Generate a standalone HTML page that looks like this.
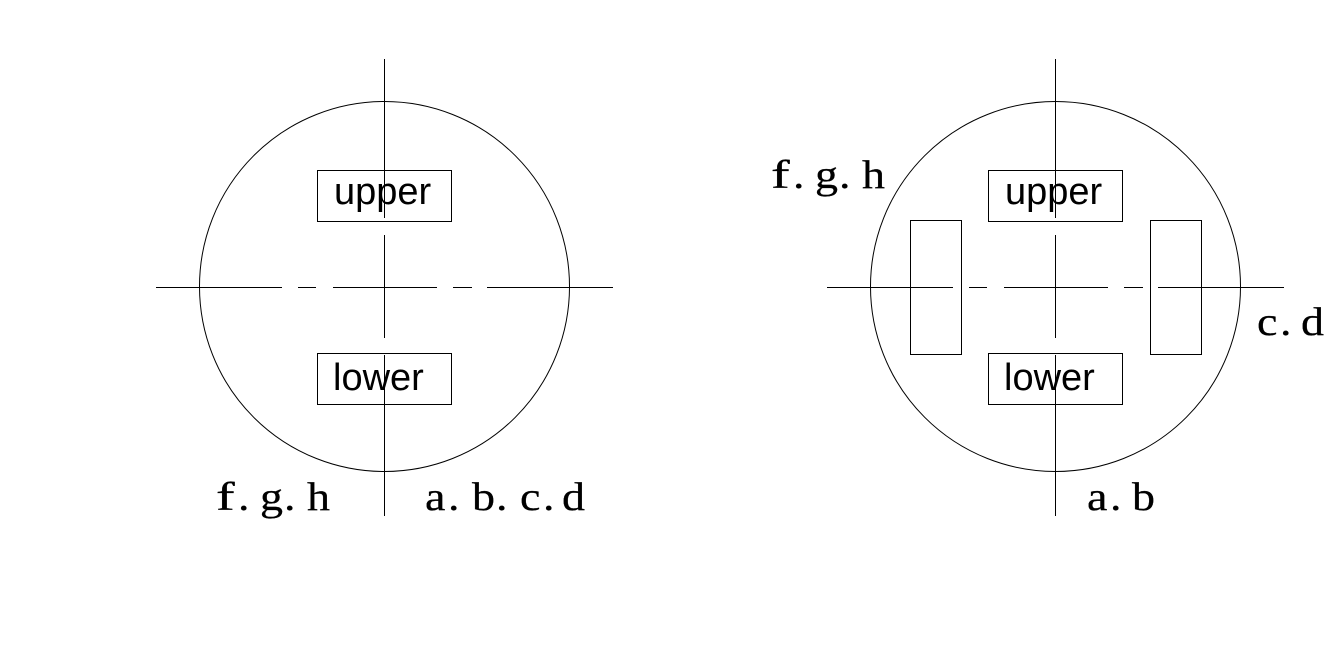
<!DOCTYPE html>
<html>
<head>
<meta charset="utf-8">
<style>
html,body{margin:0;padding:0;background:#fff;}
svg{display:block;}
.s{font-family:"Liberation Sans",sans-serif;font-size:38px;fill:#000;}
.r{font-family:"Liberation Serif",serif;font-size:40px;fill:#000;stroke:#000;stroke-width:0.25px;}
</style>
</head>
<body>
<svg width="1344" height="664" viewBox="0 0 1344 664" xmlns="http://www.w3.org/2000/svg">
<rect width="1344" height="664" fill="#fff"/>
<g stroke="#000" stroke-width="1" fill="none">
  <!-- Left diagram -->
  <circle cx="384.5" cy="286.5" r="185"/>
  <g shape-rendering="crispEdges">
    <line x1="384.5" y1="59" x2="384.5" y2="218"/>
    <line x1="384.5" y1="235" x2="384.5" y2="338"/>
    <line x1="384.5" y1="355" x2="384.5" y2="516"/>
    <line x1="156" y1="287.5" x2="282" y2="287.5"/>
    <line x1="298" y1="287.5" x2="316" y2="287.5"/>
    <line x1="333" y1="287.5" x2="437" y2="287.5"/>
    <line x1="453" y1="287.5" x2="472" y2="287.5"/>
    <line x1="487" y1="287.5" x2="613" y2="287.5"/>
    <rect x="317.5" y="170.5" width="134" height="51"/>
    <rect x="317.5" y="353.5" width="134" height="51"/>
  </g>
  <!-- Right diagram -->
  <circle cx="1055.5" cy="286.5" r="185"/>
  <g shape-rendering="crispEdges">
    <line x1="1055.5" y1="59" x2="1055.5" y2="218"/>
    <line x1="1055.5" y1="235" x2="1055.5" y2="338"/>
    <line x1="1055.5" y1="355" x2="1055.5" y2="516"/>
    <line x1="827" y1="287.5" x2="953" y2="287.5"/>
    <line x1="969" y1="287.5" x2="987" y2="287.5"/>
    <line x1="1004" y1="287.5" x2="1108" y2="287.5"/>
    <line x1="1124" y1="287.5" x2="1143" y2="287.5"/>
    <line x1="1158" y1="287.5" x2="1284" y2="287.5"/>
    <rect x="988.5" y="170.5" width="134" height="51"/>
    <rect x="988.5" y="353.5" width="134" height="51"/>
    <rect x="910.5" y="220.5" width="51" height="134"/>
    <rect x="1150.5" y="220.5" width="51" height="134"/>
  </g>
</g>

<!-- sans labels -->
<text class="s" x="334" y="204">upper</text>
<text class="s" x="333" y="390">lower</text>
<text class="s" x="1005" y="204">upper</text>
<text class="s" x="1004" y="390">lower</text>

<!-- left bottom f. g. h -->
<text class="r" transform="translate(216,510) scale(1.4,1)">f</text>
<text class="r" transform="translate(238,510) scale(1.15,1)">.</text>
<text class="r" transform="translate(260,510) scale(1.15,1)">g</text>
<text class="r" transform="translate(284,510) scale(1.15,1)">.</text>
<text class="r" transform="translate(307,510) scale(1.15,1)">h</text>

<!-- left bottom a. b. c. d -->
<text class="r" transform="translate(425,510) scale(1.15,1)">a</text>
<text class="r" transform="translate(448,510) scale(1.15,1)">.</text>
<text class="r" transform="translate(472,510) scale(1.15,1)">b</text>
<text class="r" transform="translate(496,510) scale(1.15,1)">.</text>
<text class="r" transform="translate(520,510) scale(1.15,1)">c</text>
<text class="r" transform="translate(543,510) scale(1.15,1)">.</text>
<text class="r" transform="translate(562,510) scale(1.15,1)">d</text>

<!-- right bottom a. b -->
<text class="r" transform="translate(1087,510) scale(1.15,1)">a</text>
<text class="r" transform="translate(1110,510) scale(1.15,1)">.</text>
<text class="r" transform="translate(1132,510) scale(1.15,1)">b</text>

<!-- right top f. g. h -->
<text class="r" transform="translate(771,188) scale(1.4,1)">f</text>
<text class="r" transform="translate(793,188) scale(1.15,1)">.</text>
<text class="r" transform="translate(815,188) scale(1.15,1)">g</text>
<text class="r" transform="translate(839,188) scale(1.15,1)">.</text>
<text class="r" transform="translate(862,188) scale(1.15,1)">h</text>

<!-- right c. d -->
<text class="r" transform="translate(1257,335) scale(1.15,1)">c</text>
<text class="r" transform="translate(1280,335) scale(1.15,1)">.</text>
<text class="r" transform="translate(1301,335) scale(1.15,1)">d</text>
</svg>
</body>
</html>
